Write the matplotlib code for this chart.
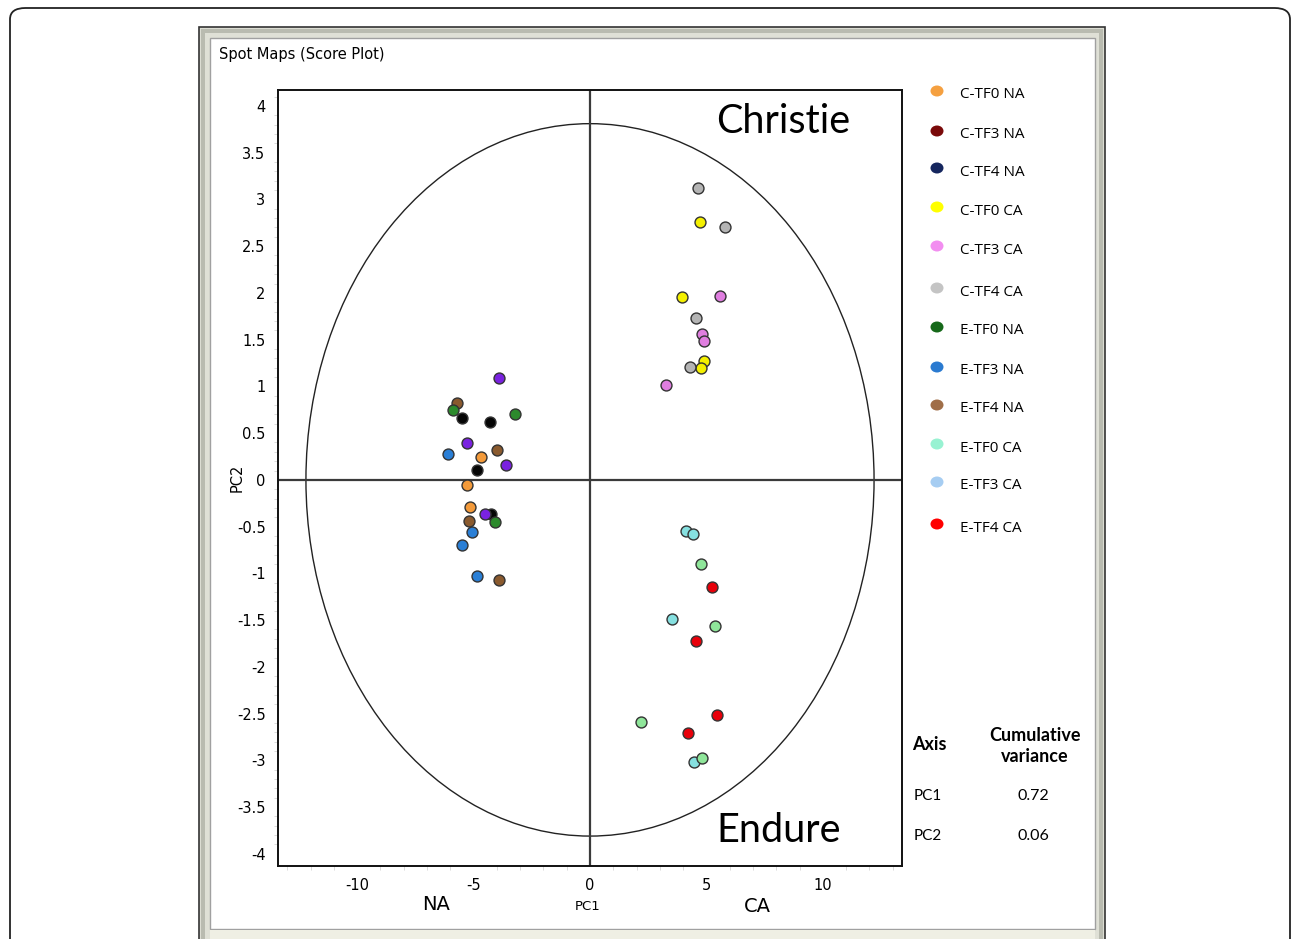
import matplotlib
matplotlib.use("Agg")
import matplotlib.pyplot as plt
from matplotlib.patches import Ellipse, FancyBboxPatch, Rectangle
import numpy as np

# ---------- data -------------------------------------------------------------
# points as drawn (colour groups seen in the plot)
orange_x = [-4.7, -5.3, -5.15]
orange_y = [0.24, -0.06, -0.29]
brown_x = [-5.7, -4.0, -5.2, -3.9]
brown_y = [0.82, 0.32, -0.44, -1.07]
black_x = [-5.5, -4.3, -4.85, -4.25]
black_y = [0.66, 0.62, 0.11, -0.37]
green_x = [-5.9, -3.2, -4.1]
green_y = [0.75, 0.70, -0.45]
purple_x = [-3.9, -5.3, -3.6, -4.5]
purple_y = [1.09, 0.39, 0.16, -0.37]
blue_x = [-6.1, -5.06, -5.5, -4.85]
blue_y = [0.28, -0.56, -0.70, -1.03]

yellow_x = [4.72, 3.95, 4.9, 4.76]
yellow_y = [2.76, 1.96, 1.27, 1.20]
pink_x = [5.58, 4.8, 4.9, 3.26]
pink_y = [1.97, 1.56, 1.48, 1.02]
gray_x = [4.64, 5.8, 4.55, 4.3]
gray_y = [3.12, 2.70, 1.73, 1.21]
cyan_x = [4.12, 4.42, 3.52, 4.46]
cyan_y = [-0.55, -0.58, -1.49, -3.02]
lgreen_x = [4.76, 5.36, 2.19, 4.8]
lgreen_y = [-0.90, -1.56, -2.59, -2.97]
red_x = [5.24, 4.55, 5.45, 4.2]
red_y = [-1.15, -1.72, -2.52, -2.71]

groups = [
    (orange_x, orange_y, "#f39a3a"),
    (brown_x, brown_y, "#8a5a2e"),
    (black_x, black_y, "#050505"),
    (green_x, green_y, "#2c8a2c"),
    (purple_x, purple_y, "#7a22e0"),
    (blue_x, blue_y, "#2a7fd6"),
    (yellow_x, yellow_y, "#f4f000"),
    (pink_x, pink_y, "#e07ee0"),
    (gray_x, gray_y, "#b4b4b4"),
    (cyan_x, cyan_y, "#86e0e0"),
    (lgreen_x, lgreen_y, "#8fe69a"),
    (red_x, red_y, "#e8000a"),
]

legend_labels = ["C-TF0 NA", "C-TF3 NA", "C-TF4 NA", "C-TF0 CA", "C-TF3 CA",
                 "C-TF4 CA", "E-TF0 NA", "E-TF3 NA", "E-TF4 NA", "E-TF0 CA",
                 "E-TF3 CA", "E-TF4 CA"]
legend_colors = ["#f5a040", "#7a0a0a", "#15265e", "#ffff00", "#f28ef0",
                 "#c4c4c4", "#16691a", "#2a7ad0", "#a06e48", "#98f2d2",
                 "#a6cdf2", "#ff0000"]

var_axes = ["PC1", "PC2"]
var_cum = ["0.72", "0.06"]

xticks = [-10, -5, 0, 5, 10]
yticks = [4, 3.5, 3, 2.5, 2, 1.5, 1, 0.5, 0, -0.5, -1, -1.5, -2, -2.5, -3,
          -3.5, -4]

# ---------- figure -----------------------------------------------------------
W, H = 1292, 939
fig = plt.figure(figsize=(W / 100, H / 100), dpi=100)


def fx(px):
    return px / W


def fy(py):
    return 1 - py / H


# outer rounded frame
fig.patches.append(FancyBboxPatch((fx(10), fy(960)), fx(1280), 960 / H - 8 / H,
                                  boxstyle="round,pad=0,rounding_size=0.012",
                                  transform=fig.transFigure, fc="white",
                                  ec="#222222", lw=1.3, zorder=0))
# window panel
fig.patches.append(Rectangle((fx(199), fy(945)), fx(906), (945 - 27) / H,
                             transform=fig.transFigure, fc="#dcddd3",
                             ec="#333333", lw=1.2, zorder=1))
fig.patches.append(Rectangle((fx(201), fy(945)), fx(902), (945 - 29) / H,
                             transform=fig.transFigure, fc="#b9bbb0",
                             ec="none", zorder=1))
fig.patches.append(Rectangle((fx(205), fy(945)), fx(894), (945 - 33) / H,
                             transform=fig.transFigure, fc="#dfe0d6",
                             ec="none", zorder=1))
fig.patches.append(Rectangle((fx(210), fy(929)), fx(885), (929 - 38) / H,
                             transform=fig.transFigure, fc="white",
                             ec="#a0a0a0", lw=1.0, zorder=2))
fig.patches.append(Rectangle((fx(210), fy(945)), fx(885), 15 / H,
                             transform=fig.transFigure, fc="#efefe4",
                             ec="none", zorder=2))

fig.text(fx(219), fy(54), "Spot Maps (Score Plot)", fontsize=10.5,
         family="DejaVu Sans", ha="left", va="center", zorder=5)

ax = fig.add_axes([fx(278), fy(866), fx(624), (866 - 90) / H], zorder=3)
ax.set_xlim(-13.4, 13.4)
ax.set_ylim(-4.13, 4.17)
for s in ax.spines.values():
    s.set_color("#111111")
    s.set_linewidth(1.4)

ax.add_patch(Ellipse((0, 0), 24.4, 7.62, fill=False, ec="#222222", lw=1.0))
ax.axhline(0, color="#3a3a3a", lw=1.6, zorder=1)
ax.axvline(0, color="#3a3a3a", lw=1.6, zorder=1)

for gx, gy, c in groups:
    ax.scatter(gx, gy, s=62, c=c, edgecolors="#333333", linewidths=1.0,
               zorder=4)

ax.set_xticks(xticks)
ax.set_xticklabels([str(t) for t in xticks])
ax.set_yticks(yticks)
ax.set_yticklabels([f"{t:g}" for t in yticks])
ax.tick_params(length=0, labelsize=10.5, pad=9)
ax.set_xticks(np.arange(-13, 14, 1), minor=True)
ax.set_yticks(np.arange(-4, 4.2, 0.1), minor=True)
ax.tick_params(which="minor", length=3, color="#d4d4d4", width=0.6)

ax.text(8.3, 3.83, "Christie", fontsize=28.5, family="Lato", ha="center",
        va="center")
ax.text(8.1, -3.75, "Endure", fontsize=28.5, family="Lato", ha="center",
        va="center")

fig.text(fx(436), fy(905), "NA", fontsize=14, ha="center", va="center")
fig.text(fx(588), fy(907), "PC1", fontsize=9.5, ha="center", va="center")
fig.text(fx(757), fy(907), "CA", fontsize=14, ha="center", va="center")
fig.text(fx(237), fy(478), "PC2", fontsize=10.5, rotation=90, ha="center",
         va="center")

# legend
leg_y = [95, 135, 172, 211, 250, 292, 331, 371, 409, 448, 486, 528]
for lab, c, py in zip(legend_labels, legend_colors, leg_y):
    fig.patches.append(Ellipse((fx(937), fy(py - 4)), 13 / W, 11 / H,
                               transform=fig.transFigure, fc=c, ec="none",
                               zorder=5))
    fig.text(fx(960), fy(py), lab, fontsize=11, family="Open Sans",
             ha="left", va="center", zorder=5)

# cumulative variance table
fig.text(fx(929), fy(745), "Axis", fontsize=13, family="Lato",
         weight="bold", ha="center", va="center")
fig.text(fx(1035), fy(746), "Cumulative\nvariance", fontsize=13,
         family="Lato", weight="bold", ha="center", va="center",
         linespacing=1.3)
for lab, v, py in zip(var_axes, var_cum, [796, 836]):
    fig.text(fx(928), fy(py), lab, fontsize=11, family="Lato",
             ha="center", va="center")
    fig.text(fx(1033), fy(py), v, fontsize=11.5, family="Lato",
             ha="center", va="center")

fig.savefig("out.png", dpi=100)
